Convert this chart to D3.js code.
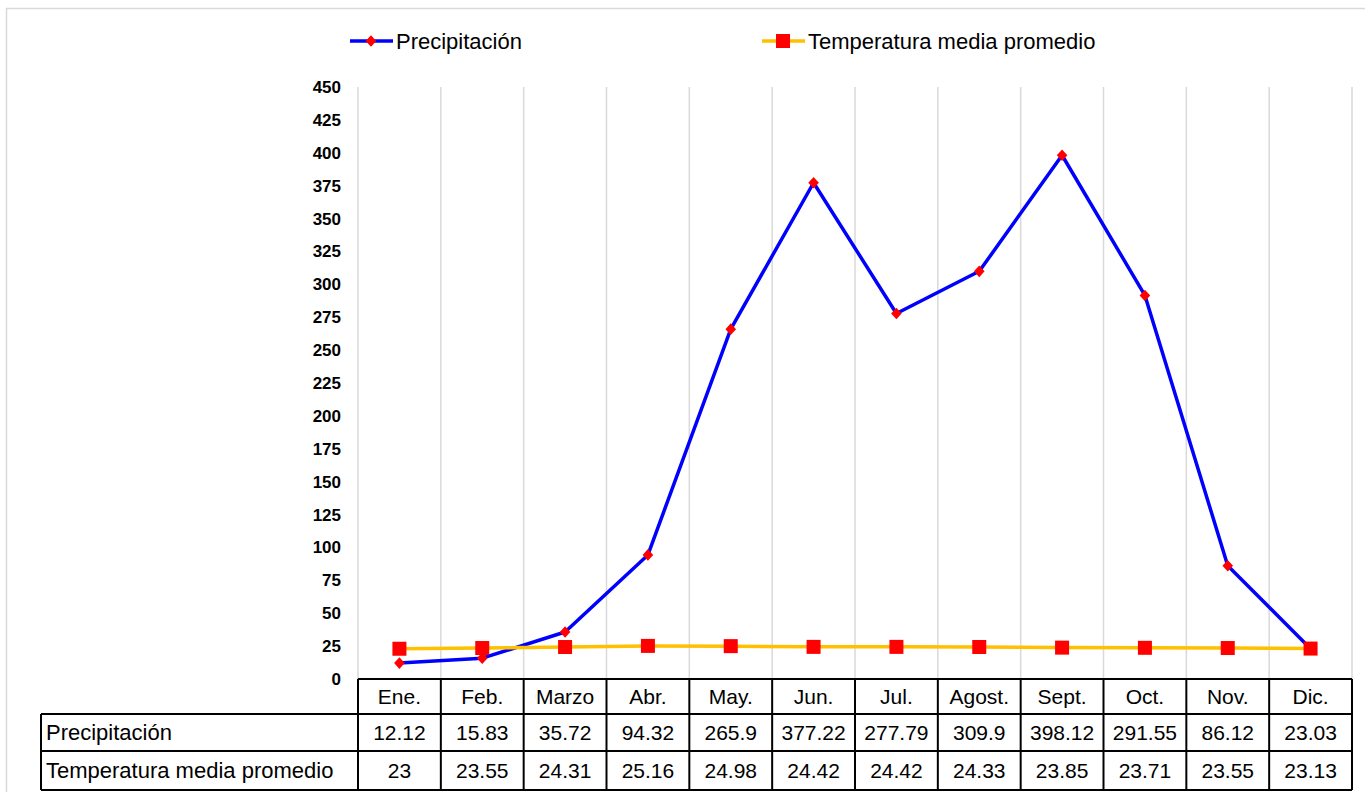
<!DOCTYPE html>
<html>
<head>
<meta charset="utf-8">
<script src="https://cdn.jsdelivr.net/npm/d3@7"></script>
<style>
  body { margin: 0; background: #fff; }
  svg { display: block; font-family: 'Liberation Sans', Arial, sans-serif; }
</style>
</head>
<body>
<svg id="chart" width="1365" height="792"></svg>
<script>
const MONTHS = ['Ene.', 'Feb.', 'Marzo', 'Abr.', 'May.', 'Jun.', 'Jul.', 'Agost.', 'Sept.', 'Oct.', 'Nov.', 'Dic.'];
const PRECIP = [12.12, 15.83, 35.72, 94.32, 265.9, 377.22, 277.79, 309.9, 398.12, 291.55, 86.12, 23.03];
const TEMP = [23, 23.55, 24.31, 25.16, 24.98, 24.42, 24.42, 24.33, 23.85, 23.71, 23.55, 23.13];
const Y_TICKS = d3.range(0, 451, 25);
const SERIES_NAMES = ['Precipitación', 'Temperatura media promedio'];

const SVG = d3.select('#chart');

// outer chart frame
SVG.append('rect')
  .attr('x', 6.5).attr('y', 8.5)
  .attr('width', 1365).attr('height', 800)
  .style('fill', 'none')
  .style('stroke', '#d9d9d9')
  .style('stroke-width', 1.5);

const X = d3.scaleBand().domain(MONTHS).range([358, 1352]).padding(0);
const Y = d3.scaleLinear().domain([0, 450]).range([679, 87]);

// vertical gridlines at category boundaries
const BOUNDS = MONTHS.map((m) => X(m)).concat([X.range()[1]]);
SVG.append('g')
  .attr('id', 'grid')
  .selectAll('line')
  .data(BOUNDS)
  .join('line')
  .attr('x1', (d) => d).attr('x2', (d) => d)
  .attr('y1', Y(450)).attr('y2', Y(0))
  .style('stroke', '#d9d9d9')
  .style('stroke-width', 1.5);

// y axis
const Y_AXIS = d3.axisLeft(Y).tickValues(Y_TICKS).tickSize(0).tickPadding(0);
const Y_AXIS_GROUP = SVG.append('g')
  .attr('id', 'yAxis')
  .attr('transform', 'translate(341,0)');
Y_AXIS(Y_AXIS_GROUP);
Y_AXIS_GROUP.select('.domain').remove();
Y_AXIS_GROUP.selectAll('text')
  .attr('font-size', null)
  .style('font-size', '17px')
  .style('font-weight', 'bold')
  .style('fill', '#000')
  .style('font-family', "'Liberation Sans', Arial, sans-serif");

const cx = (d, i) => X(MONTHS[i]) + X.bandwidth() / 2;
const DIAMOND = d3.symbol(d3.symbolSquare, 56);

// precipitation line
SVG.append('path')
  .datum(PRECIP)
  .attr('d', d3.line().x(cx).y((d) => Y(d)))
  .style('fill', 'none')
  .style('stroke', '#0000ff')
  .style('stroke-width', 3.5)
  .style('stroke-linejoin', 'round');

// temperature line
SVG.append('path')
  .datum(TEMP)
  .attr('d', d3.line().x(cx).y((d) => Y(d)))
  .style('fill', 'none')
  .style('stroke', '#ffc000')
  .style('stroke-width', 3.5);

SVG.append('g')
  .selectAll('path')
  .data(PRECIP)
  .join('path')
  .attr('d', DIAMOND)
  .attr('transform', (d, i) => `translate(${cx(d, i)},${Y(d)}) scale(1,1.1) rotate(45)`)
  .style('fill', '#ff0000');

SVG.append('g')
  .selectAll('rect')
  .data(TEMP)
  .join('rect')
  .attr('x', (d, i) => cx(d, i) - 7)
  .attr('y', (d) => Y(d) - 7)
  .attr('width', 14).attr('height', 14)
  .style('fill', '#ff0000');

// legend
const LEGEND = SVG.append('g').attr('id', 'legend');
const LEG_X = [350, 762];
LEGEND.selectAll('line')
  .data(SERIES_NAMES)
  .join('line')
  .attr('x1', (d, i) => LEG_X[i]).attr('x2', (d, i) => LEG_X[i] + 43)
  .attr('y1', 41).attr('y2', 41)
  .style('stroke', (d, i) => (i == 0 ? '#0000ff' : '#ffc000'))
  .style('stroke-width', 3.5);
LEGEND.append('path')
  .attr('d', DIAMOND)
  .attr('transform', `translate(${LEG_X[0] + 21},41) scale(1,1.1) rotate(45)`)
  .style('fill', '#ff0000');
LEGEND.append('rect')
  .attr('x', LEG_X[1] + 14).attr('y', 34)
  .attr('width', 14).attr('height', 14)
  .style('fill', '#ff0000');
LEGEND.selectAll('text')
  .data(SERIES_NAMES)
  .join('text')
  .attr('x', (d, i) => LEG_X[i] + 46)
  .attr('y', 41)
  .attr('dy', '0.35em')
  .style('font-size', '22px')
  .style('fill', '#000')
  .text((d) => d);

// data table
const ROWS = [679, 714, 751, 790];
const TABLE = SVG.append('g').attr('id', 'table');
const LINE_STYLE = (s) => s.style('stroke', '#000').style('stroke-width', 2);

// horizontal lines
TABLE.append('line').attr('x1', 358).attr('x2', 1352).attr('y1', ROWS[0]).attr('y2', ROWS[0]).call(LINE_STYLE);
[1, 2, 3].forEach((r) => {
  TABLE.append('line').attr('x1', 41).attr('x2', 1352).attr('y1', ROWS[r]).attr('y2', ROWS[r]).call(LINE_STYLE);
});
// vertical lines
TABLE.append('line').attr('x1', 41).attr('x2', 41).attr('y1', ROWS[1]).attr('y2', ROWS[3]).call(LINE_STYLE);
TABLE.selectAll('line.v')
  .data(BOUNDS)
  .join('line')
  .attr('class', 'v')
  .attr('x1', (d) => d).attr('x2', (d) => d)
  .attr('y1', ROWS[0]).attr('y2', ROWS[3])
  .call(LINE_STYLE);

const cellText = (g, values, row) => {
  g.append('g')
    .selectAll('text')
    .data(values)
    .join('text')
    .attr('x', (d, i) => cx(d, i))
    .attr('y', (ROWS[row] + ROWS[row + 1]) / 2)
    .attr('dy', '0.35em')
    .style('text-anchor', 'middle')
    .style('font-size', '21px')
    .style('fill', '#000')
    .text((d) => d);
};
cellText(TABLE, MONTHS, 0);
cellText(TABLE, PRECIP, 1);
cellText(TABLE, TEMP, 2);

TABLE.selectAll('text.name')
  .data(SERIES_NAMES)
  .join('text')
  .attr('class', 'name')
  .attr('x', 46)
  .attr('y', (d, i) => (ROWS[i + 1] + ROWS[i + 2]) / 2)
  .attr('dy', '0.35em')
  .style('font-size', '22px')
  .style('fill', '#000')
  .text((d) => d);
</script>
</body>
</html>
